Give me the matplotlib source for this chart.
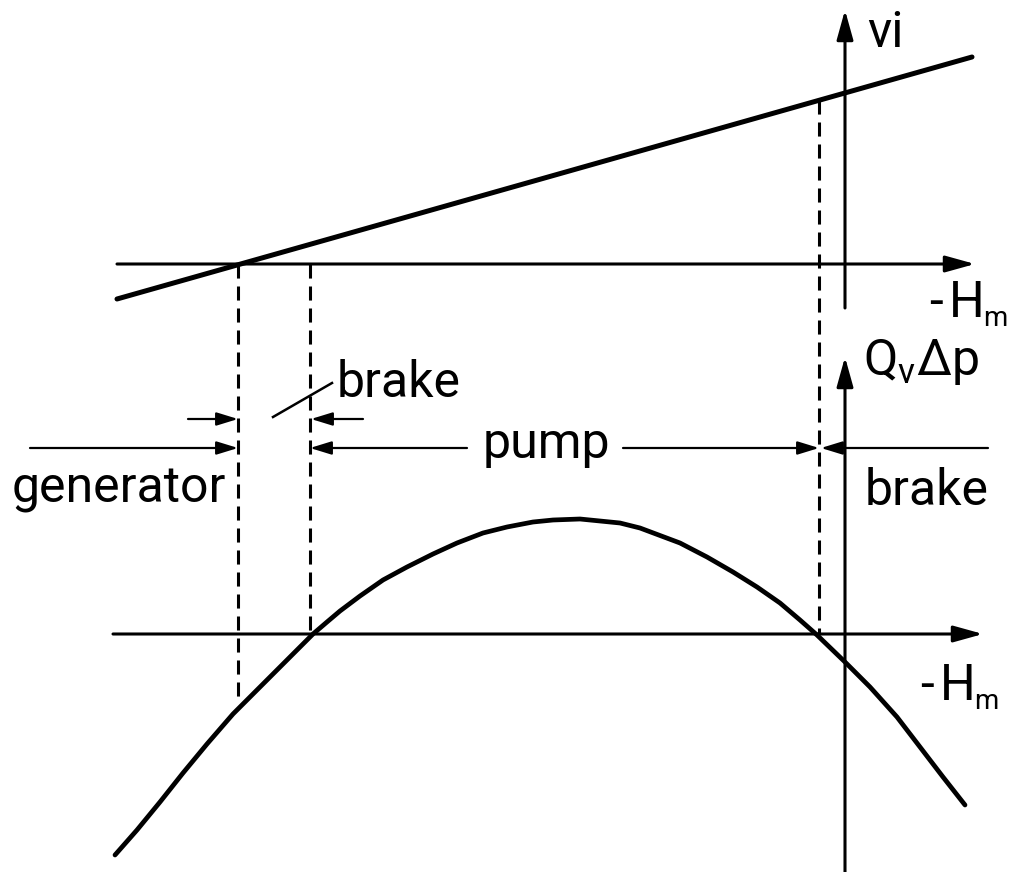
import matplotlib.pyplot as plt

plt.rcParams['font.family'] = ['Roboto', 'DejaVu Sans']
plt.rcParams['mathtext.fontset'] = 'custom'
plt.rcParams['mathtext.rm'] = 'Roboto'

# upper panel: straight characteristic
line_x = [117, 972]
line_y = [299, 57]

# lower panel: Qv*dp curve
curve_x = [115, 137, 160, 183, 207, 233, 260, 287, 313, 327, 340, 360, 383,
           407, 433, 457, 483, 507, 533, 553, 580, 600, 620, 640, 680, 707,
           733, 757, 780, 800, 817, 845, 870, 897, 920, 943, 965]
curve_y = [855, 830, 802, 773, 744, 714, 687, 660, 634, 622, 611, 596, 580,
           567, 554, 543, 533, 527, 522, 520, 519, 521, 523, 528, 543, 557,
           572, 587, 603, 620, 635, 662, 687, 717, 747, 777, 805]

# axes of the two panels
upper_axis_y = 264
lower_axis_y = 634
vert_axis_x = 845
upper_axis_span = [117, 975]
lower_axis_span = [113, 983]
upper_vert_span = [308, 10]
lower_vert_span = [872, 357]

# region boundaries (dashed)
gen_x = 238
brake_x = 310
pump_x = 819
gen_dash = [264, 702]
brake_dash = [264, 634]
pump_dash = [100, 634]

# dimension line
dim_y = 448
small_y = 419

fig = plt.figure(figsize=(10.1, 8.72), dpi=100)
ax = fig.add_axes([0, 0, 1, 1])
ax.set_xlim(0, 1010)
ax.set_ylim(872, 0)
ax.axis('off')

big = dict(arrowstyle='-|>,head_length=0.9,head_width=0.25', lw=2.2,
           color='black', shrinkA=0, shrinkB=0, mutation_scale=20)
small = dict(arrowstyle='-|>,head_length=0.65,head_width=0.2', lw=1.6,
             color='black', shrinkA=0, shrinkB=0, mutation_scale=20)


def arrow(x0, y0, x1, y1, props):
    ax.annotate('', xy=(x1, y1), xytext=(x0, y0), arrowprops=props)


def hm_label(x, y):
    # "-H" with a subscript m, as in the drawing
    ax.text(x, y, '-', fontsize=fs, ha='left', va='baseline')
    ax.text(x + 20, y, 'H', fontsize=fs, ha='left', va='baseline')
    ax.text(x + 54, y + 9, 'm', fontsize=20, ha='left', va='baseline')


# coordinate axes
arrow(upper_axis_span[0], upper_axis_y, upper_axis_span[1], upper_axis_y, big)
arrow(vert_axis_x, upper_vert_span[0], vert_axis_x, upper_vert_span[1], big)
arrow(lower_axis_span[0], lower_axis_y, lower_axis_span[1], lower_axis_y, big)
arrow(vert_axis_x, lower_vert_span[0], vert_axis_x, lower_vert_span[1], big)

# characteristics
ax.plot(line_x, line_y, color='black', lw=3.6, solid_capstyle='round')
ax.plot(curve_x, curve_y, color='black', lw=3.4, solid_capstyle='round',
        solid_joinstyle='round')

# dashed boundaries
dash = (0, (4.6, 2.6))
ax.plot([gen_x, gen_x], gen_dash, color='black', lw=2.2, ls=dash)
ax.plot([brake_x, brake_x], brake_dash, color='black', lw=2.2, ls=dash)
ax.plot([pump_x, pump_x], pump_dash, color='black', lw=2.2, ls=dash)

# dimension arrows
arrow(30, dim_y, gen_x, dim_y, small)
arrow(467, dim_y, brake_x, dim_y, small)
arrow(623, dim_y, pump_x, dim_y, small)
arrow(988, dim_y, pump_x + 2, dim_y, small)
arrow(188, small_y, gen_x, small_y, small)
arrow(363, small_y, brake_x + 1, small_y, small)
ax.plot([273, 332], [417, 383], color='black', lw=1.8)

fs = 36
ax.text(867, 47, 'vi', fontsize=fs, ha='left', va='baseline')
hm_label(929, 317)
hm_label(920, 700)
ax.text(863, 375, r'Q$_{\rm v}$Δp', fontsize=fs, ha='left', va='baseline')
ax.text(337, 397, 'brake', fontsize=fs, ha='left', va='baseline')
ax.text(865, 505, 'brake', fontsize=fs, ha='left', va='baseline')
ax.text(483, 458, 'pump', fontsize=fs, ha='left', va='baseline')
ax.text(12, 502, 'generator', fontsize=fs, ha='left', va='baseline')

fig.savefig('out.png', dpi=100)
